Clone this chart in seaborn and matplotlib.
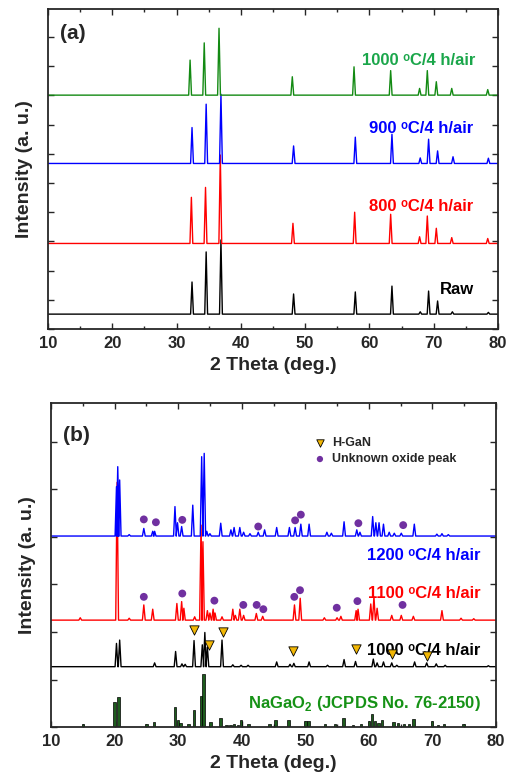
import numpy as np
import pandas as pd
import seaborn as sns
import matplotlib.pyplot as plt
from matplotlib.ticker import MultipleLocator, NullFormatter

# ---- panel (a): peak positions (2theta) and heights above each baseline ----
raw_pos = [32.4, 34.6, 36.9, 48.2, 57.8, 63.5, 67.9, 69.2, 70.6, 72.9, 78.5]
raw_h = [1.10, 2.13, 2.54, 0.69, 0.76, 0.96, 0.08, 0.79, 0.45, 0.08, 0.06]
a800_pos = [32.3, 34.5, 36.8, 48.1, 57.7, 63.3, 67.8, 69.0, 70.4, 72.8, 78.4]
a800_h = [1.58, 1.92, 3.03, 0.69, 1.07, 1.00, 0.23, 0.94, 0.52, 0.20, 0.17]
a900_pos = [32.4, 34.6, 36.9, 48.2, 57.8, 63.5, 67.9, 69.2, 70.6, 73.0, 78.5]
a900_h = [1.23, 2.03, 2.37, 0.60, 0.90, 1.00, 0.19, 0.83, 0.43, 0.23, 0.18]
a1000_pos = [32.1, 34.3, 36.6, 48.0, 57.6, 63.3, 67.8, 69.0, 70.4, 72.8, 78.4]
a1000_h = [1.20, 1.79, 2.29, 0.63, 0.97, 0.84, 0.23, 0.84, 0.46, 0.23, 0.19]
a_base = {"Raw": 0.51, "800": 2.93, "900": 5.67, "1000": 8.01}

# ---- panel (b) ----
nagao2_pos = [15.0, 20.0, 20.6, 25.0, 26.2, 29.5, 30.0, 30.4, 31.6, 32.5, 33.6, 34.0,
              35.1, 36.7, 37.6, 38.2, 38.8, 39.4, 39.9, 41.1, 44.4, 45.3, 47.4, 50.0,
              50.5, 53.1, 54.7, 56.0, 57.5, 58.8, 60.0, 60.5, 61.0, 61.5, 62.1, 63.9,
              64.6, 65.5, 66.3, 67.0, 69.9, 70.9, 71.8, 74.9]
nagao2_h = [0.07, 0.53, 0.63, 0.07, 0.10, 0.42, 0.14, 0.08, 0.07, 0.35, 0.65, 1.12,
            0.10, 0.18, 0.05, 0.05, 0.06, 0.05, 0.14, 0.07, 0.07, 0.14, 0.14, 0.12,
            0.12, 0.06, 0.07, 0.18, 0.05, 0.06, 0.12, 0.27, 0.13, 0.09, 0.15, 0.10,
            0.08, 0.06, 0.06, 0.17, 0.12, 0.05, 0.06, 0.07]

b1000_pos = [20.3, 20.8, 26.3, 29.6, 30.6, 31.1, 32.5, 33.8, 34.2, 34.6, 36.9, 38.6,
             39.9, 41.0, 45.5, 47.6, 48.2, 50.6, 53.5, 56.1, 57.9, 60.7, 61.3, 62.3,
             63.6, 64.4, 67.2, 69.1, 70.6, 72.0, 78.8]
b1000_top = [1.76, 1.83, 1.35, 1.59, 1.33, 1.32, 1.82, 1.73, 1.99, 1.68, 1.83, 1.31,
             1.30, 1.30, 1.37, 1.32, 1.34, 1.37, 1.30, 1.42, 1.38, 1.43, 1.35, 1.37,
             1.35, 1.30, 1.37, 1.35, 1.33, 1.30, 1.29]
b1100_pos = [14.6, 20.4, 22.3, 24.6, 26.0, 29.8, 30.55, 30.9, 32.6, 33.6, 33.9, 34.6,
             35.0, 35.5, 35.8, 36.9, 38.6, 39.0, 39.7, 40.3, 42.3, 43.3, 48.3, 49.2,
             53.0, 55.0, 55.6, 58.0, 58.3, 60.3, 60.8, 61.3, 63.6, 65.1, 67.0, 71.5,
             74.5, 76.5]
b1100_top = [2.30, 5.15, 2.29, 2.57, 2.48, 2.60, 2.64, 2.50, 2.32, 4.25, 3.90, 2.45,
             2.40, 2.48, 2.40, 2.32, 2.48, 2.35, 2.48, 2.35, 2.39, 2.33, 2.57, 2.71,
             2.30, 2.30, 2.33, 2.45, 2.48, 2.59, 2.74, 2.50, 2.35, 2.35, 2.33, 2.45,
             2.29, 2.28]
b1200_pos = [20.3, 20.5, 20.8, 22.3, 24.6, 26.0, 26.3, 29.5, 29.9, 30.55, 32.3, 33.7,
             34.1, 34.5, 35.0, 36.7, 38.3, 38.8, 39.7, 40.3, 41.3, 42.6, 43.6, 45.5,
             47.5, 48.4, 49.3, 50.6, 53.4, 54.1, 56.1, 58.1, 58.6, 60.6, 61.1, 61.6,
             62.3, 63.2, 64.0, 65.1, 67.15, 70.7, 71.5, 72.5]
b1200_top = [5.06, 5.48, 5.20, 4.05, 4.18, 4.12, 4.12, 4.64, 4.30, 4.22, 4.67, 5.69,
             5.76, 4.12, 4.07, 4.29, 4.15, 4.20, 4.20, 4.10, 4.07, 4.10, 4.15, 4.20,
             4.20, 4.20, 4.27, 4.27, 4.10, 4.08, 4.32, 4.15, 4.10, 4.43, 4.30, 4.30,
             4.27, 4.10, 4.08, 4.08, 4.27, 4.06, 4.07, 4.05]
b_base = {"1000": 1.27, "1100": 2.25, "1200": 4.02}

hgan_x = [32.55, 34.9, 37.1, 48.1, 58.0, 63.6, 69.1]
hgan_y = [2.04, 1.73, 2.00, 1.61, 1.64, 1.54, 1.50]
oxide_x = [24.6, 30.65, 35.7, 40.25, 42.35, 43.4, 48.27, 49.17, 54.95, 58.2, 65.3,
           24.6, 26.5, 30.65, 42.6, 48.4, 49.3, 58.35, 65.4]
oxide_y = [2.74, 2.81, 2.66, 2.57, 2.57, 2.48, 2.74, 2.88, 2.51, 2.65, 2.57,
           4.37, 4.31, 4.36, 4.22, 4.35, 4.47, 4.29, 4.25]


def pattern(pos, tops, base, hw=0.22):
    # baseline -> spike at each read peak -> baseline
    xs, ys = [10.0], [base]
    for p, t in zip(pos, tops):
        xs += [p - hw, p, p + hw]
        ys += [base, t, base]
    xs.append(80.0)
    ys.append(base)
    return pd.DataFrame({"x": xs, "y": ys})


sns.set_style("ticks")
plt.rcParams["font.family"] = ["Liberation Sans", "DejaVu Sans"]
plt.rcParams["font.weight"] = "bold"
plt.rcParams["mathtext.fontset"] = "custom"
plt.rcParams["mathtext.rm"] = "Liberation Sans:bold"
plt.rcParams["mathtext.bf"] = "Liberation Sans:bold"

fig = plt.figure(figsize=(5.07, 7.83), dpi=100)
ax1 = fig.add_axes([0.0947, 0.5798, 0.8876, 0.4087])
ax2 = fig.add_axes([0.1006, 0.0715, 0.8777, 0.4138])

green_line = "#138a13"
lw = 1.0
deg = "\u1d52"

# panel (a)
for pos, h, key, col in [(raw_pos, raw_h, "Raw", "black"),
                         (a800_pos, a800_h, "800", "#ff0000"),
                         (a900_pos, a900_h, "900", "#0000ff"),
                         (a1000_pos, a1000_h, "1000", green_line)]:
    b = a_base[key]
    df = pattern(pos, [b + v for v in h], b)
    sns.lineplot(data=df, x="x", y="y", ax=ax1, color=col, lw=lw,
                 sort=False, estimator=None)

ax1.text(76.4, 9.2, f"1000 {deg}C/4 h/air", color="#1aa64a",
         ha="right", va="center", fontsize=12, fontweight="bold")
ax1.text(76.2, 6.88, f"900 {deg}C/4 h/air", color="#0000ff",
         ha="right", va="center", fontsize=12, fontweight="bold")
ax1.text(76.2, 4.21, f"800 {deg}C/4 h/air", color="#ff0000",
         ha="right", va="center", fontsize=12, fontweight="bold")
ax1.text(76.2, 1.37, "Raw", color="black", ha="right", va="center",
         fontsize=12, fontweight="bold")
ax1.text(0.027, 0.925, "(a)", transform=ax1.transAxes, fontsize=15,
         fontweight="bold", va="center", ha="left")
ax1.set_ylim(0, 10.96)

# panel (b)
ax2.bar(nagao2_pos, nagao2_h, width=0.4, color="#1d5c1d", edgecolor="black",
        linewidth=0.5)
for pos, tops, key, col in [(b1000_pos, b1000_top, "1000", "black"),
                            (b1100_pos, b1100_top, "1100", "#ff0000"),
                            (b1200_pos, b1200_top, "1200", "#0000ff")]:
    df = pattern(pos, tops, b_base[key])
    sns.lineplot(data=df, x="x", y="y", ax=ax2, color=col, lw=lw,
                 sort=False, estimator=None)

sns.scatterplot(x=hgan_x, y=hgan_y, ax=ax2, marker="v", s=45, color="#f2b705",
                edgecolor="black", linewidth=0.6, label="H-GaN", zorder=5)
sns.scatterplot(x=oxide_x, y=oxide_y, ax=ax2, marker="o", s=32, color="#7030a0",
                edgecolor="none", label="Unknown oxide peak", zorder=5)
leg = ax2.legend(loc="upper left", bbox_to_anchor=(0.565, 0.93), frameon=False,
                 fontsize=9, handlelength=1.0, handletextpad=0.5,
                 labelspacing=0.35, markerscale=0.8)
for t in leg.get_texts():
    t.set_fontweight("bold")

ax2.text(77.6, 3.6, f"1200 {deg}C/4 h/air", color="#0000ff",
         ha="right", va="center", fontsize=12, fontweight="bold")
ax2.text(77.6, 2.82, f"1100 {deg}C/4 h/air", color="#ff0000",
         ha="right", va="center", fontsize=12, fontweight="bold")
ax2.text(77.6, 1.62, f"1000 {deg}C/4 h/air", color="black",
         ha="right", va="center", fontsize=12, fontweight="bold")
ax2.text(77.6, 0.5, r"NaGaO$_{\mathbf{2}}$ (JCPDS No. 76-2150)", color="#169216",
         ha="right", va="center", fontsize=12, fontweight="bold")
ax2.text(0.027, 0.90, "(b)", transform=ax2.transAxes, fontsize=15,
         fontweight="bold", va="center", ha="left")
ax2.set_ylim(0, 6.82)

for ax in (ax1, ax2):
    ax.set_xlim(10, 80)
    ax.xaxis.set_major_locator(MultipleLocator(10))
    ax.xaxis.set_minor_locator(MultipleLocator(5))
    ax.yaxis.set_major_locator(MultipleLocator(1))
    ax.yaxis.set_major_formatter(NullFormatter())
    ax.tick_params(axis="both", which="both", direction="in", top=True, right=True,
                   width=1.0)
    ax.tick_params(axis="both", which="major", length=4, labelsize=12, pad=5)
    ax.tick_params(axis="x", which="minor", length=2.5)
    for lab in ax.get_xticklabels():
        lab.set_fontweight("bold")
    for sp in ax.spines.values():
        sp.set_linewidth(1.3)
    ax.set_xlabel("2 Theta (deg.)", fontsize=14, fontweight="bold", labelpad=4)
    ax.set_ylabel("Intensity (a. u.)", fontsize=14, fontweight="bold", labelpad=6)

fig.savefig("out.png", dpi=100)
